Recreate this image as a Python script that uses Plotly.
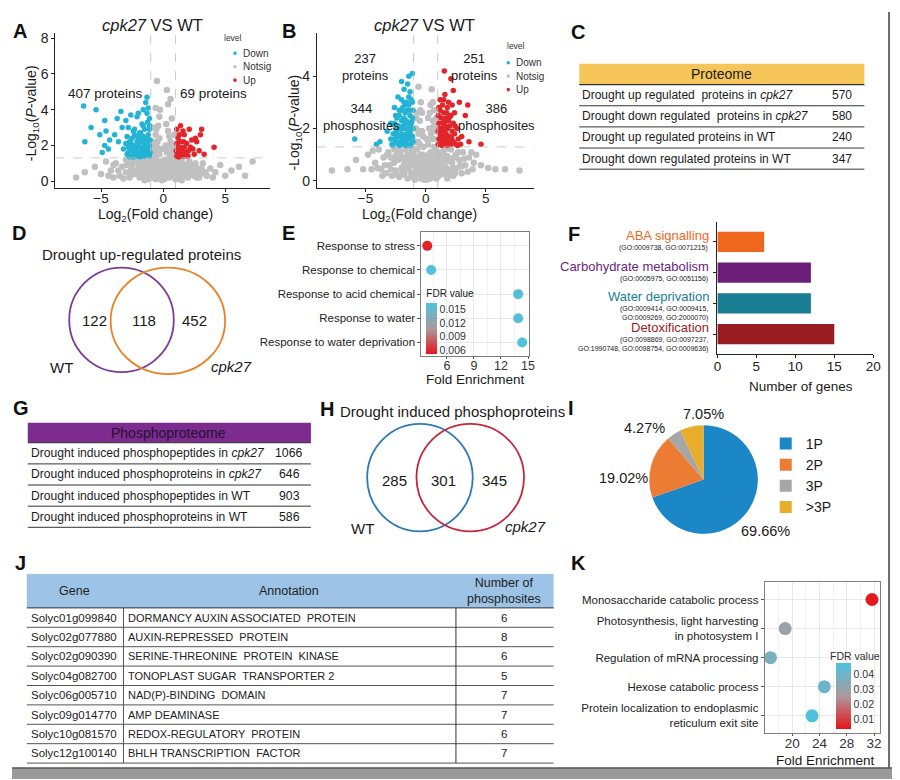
import plotly.graph_objects as go

# The page body has an 8px margin, so the figure is offset by 8px; reference
# pixel positions are converted with that offset.
OFF = 8
W, H = 892, 772
FONT = "Liberation Sans"
INK = "#1a1a1a"


def px(x):
    return (x - OFF) / W


def py(y):
    return 1 - (y - OFF) / H


# ------------------------------------------------------------------ DATA
# Panel A volcano (proteome) : (log2FC, -log10 P)
A_down = [(-6.4, 4.2), (-6.3, 2.2), (-5.8, 3.0), (-5.4, 4.0), (-5.1, 2.6), (-4.9, 1.6), (-4.7, 3.4),
          (-4.6, 2.8), (-4.3, 2.3), (-4.7, 2.0), (-4.4, 1.8), (-3.9, 2.6), (-3.7, 3.5), (-3.4, 3.9),
          (-3.3, 3.0), (-3.0, 3.4), (-2.6, 3.7), (-2.1, 3.6), (-2.0, 3.8), (-1.6, 4.0), (-1.4, 4.4),
          (-1.3, 4.7), (-1.1, 3.5), (-1.3, 3.8), (-1.7, 3.2), (-2.3, 2.9), (-1.2, 4.1), (-1.1, 3.1),
          (-3.6, 2.2), (-3.2, 1.8), (-2.9, 2.5), (-2.8, 3.0), (-1.5, 2.9), (-1.9, 2.7),
          (-2.9, 1.5), (-2.8, 1.9), (-2.7, 2.2), (-2.6, 1.4), (-2.5, 1.7), (-2.5, 2.4), (-2.4, 2.0),
          (-2.3, 1.5), (-2.3, 2.6), (-2.2, 1.8), (-2.1, 2.2), (-2.0, 1.4), (-2.0, 2.0), (-1.9, 1.6),
          (-1.9, 2.4), (-1.8, 1.9), (-1.8, 2.7), (-1.7, 1.4), (-1.7, 2.2), (-1.6, 1.7), (-1.6, 2.5),
          (-1.5, 2.0), (-1.5, 1.4), (-1.4, 1.8), (-1.4, 2.3), (-1.3, 1.5), (-1.3, 2.1), (-1.2, 1.7),
          (-1.2, 2.6), (-1.1, 1.4), (-1.1, 2.0), (-1.1, 2.9), (-1.05, 1.6), (-1.05, 2.3), (-2.6, 2.1),
          (-2.2, 1.4), (-1.9, 1.35), (-2.8, 1.6), (-3.0, 2.1), (-2.4, 2.8), (-1.6, 3.1), (-1.25, 3.3),
          (-2.7, 1.35), (-2.4, 1.35), (-2.1, 1.7), (-1.75, 1.65), (-1.45, 1.6), (-1.15, 1.85),
          (-2.55, 1.95), (-2.05, 2.45), (-1.55, 2.25), (-1.25, 2.4)]
A_up = [(1.1, 2.9), (1.4, 3.1), (1.7, 2.6), (2.1, 2.9), (2.6, 2.4), (2.7, 2.2), (3.0, 2.6), (3.1, 2.9),
        (4.1, 1.9), (2.9, 1.7), (2.4, 1.8), (1.2, 2.4), (1.3, 1.5), (1.1, 1.4), (1.5, 1.8), (1.6, 1.4),
        (1.2, 1.9), (1.4, 2.2), (1.8, 1.6), (1.9, 2.1), (2.0, 1.4), (2.2, 1.9), (1.05, 1.7), (1.25, 1.35),
        (1.5, 1.5), (1.7, 1.9), (2.3, 2.3), (1.3, 2.6), (1.9, 1.4), (2.5, 1.5), (3.3, 1.5), (1.6, 2.8),
        (1.1, 2.1), (1.4, 1.65), (1.65, 2.2), (2.05, 1.7), (1.35, 1.9), (1.15, 1.6)]
A_ns = [(-7.0, 0.2), (-6.3, 0.5), (-5.5, 0.8), (-5.0, 0.4), (-4.6, 1.1), (-4.2, 0.6), (-3.8, 1.0),
        (-3.5, 0.3), (-3.3, 0.8), (-3.0, 0.5), (-3.0, 1.2), (-2.7, 0.2), (-2.5, 0.9), (-2.3, 0.4),
        (-2.2, 1.1), (-2.0, 0.7), (-1.9, 0.2), (-1.8, 1.0), (-1.6, 0.5), (-1.5, 1.2), (-1.4, 0.8),
        (-1.3, 0.3), (-1.2, 1.0), (-1.1, 0.6), (-1.0, 1.3), (-0.9, 0.2), (-0.9, 1.6), (-0.8, 0.9),
        (-0.8, 2.2), (-0.7, 0.4), (-0.7, 1.4), (-0.6, 2.6), (-0.6, 0.1), (-0.5, 1.0), (-0.5, 1.9),
        (-0.4, 3.1), (-0.4, 0.5), (-0.3, 1.5), (-0.3, 2.4), (-0.2, 0.2), (-0.2, 0.9), (-0.1, 1.8),
        (-0.1, 0.05), (0.0, 0.4), (0.1, 0.1), (0.1, 1.2), (0.2, 0.6), (0.2, 2.0), (0.3, 0.3), (0.3, 1.6),
        (0.3, 5.1), (0.4, 0.8), (0.4, 2.8), (0.4, 4.3), (0.5, 0.2), (0.5, 1.3), (0.6, 0.6), (0.6, 2.2),
        (0.7, 1.0), (0.7, 3.5), (0.8, 0.3), (0.8, 1.8), (0.9, 0.8), (0.9, 2.6), (1.0, 0.1), (1.1, 0.5),
        (1.2, 1.0), (1.3, 0.3), (1.4, 0.8), (1.5, 1.2), (1.6, 0.4), (1.8, 0.9), (2.0, 0.2), (2.1, 1.1),
        (2.3, 0.6), (2.5, 0.3), (2.6, 1.0), (2.8, 0.7), (3.0, 0.4), (3.2, 1.0), (3.5, 0.3), (3.8, 0.7),
        (4.2, 0.5), (4.6, 0.9), (5.0, 0.3), (5.5, 0.6), (6.1, 0.8), (6.6, 0.3), (7.2, 1.1), (-0.5, 5.6),
        (-0.6, 4.1), (-0.3, 3.6), (-0.8, 3.0), (0.6, 4.6), (-0.7, 0.7), (-2.6, 0.6), (-1.7, 0.3),
        (1.9, 0.5), (2.7, 0.2), (-4.0, 0.2), (4.0, 0.2), (-0.4, 0.2), (0.5, 0.5), (-0.2, 0.6),
        (-1.5, 0.05), (1.5, 0.05), (-0.9, 0.45), (0.9, 0.45), (-2.1, 0.45), (2.2, 0.35), (-1.2, 0.1),
        (1.2, 0.15), (-0.6, 1.25), (0.6, 1.5),
        (-3.2, 0.15), (-2.9, 0.9), (-2.6, 0.35), (-2.4, 1.2), (-2.2, 0.6), (-2.0, 1.0), (-1.9, 0.45),
        (-1.7, 0.8), (-1.6, 1.1), (-1.5, 0.65), (-1.3, 0.55), (-1.2, 1.25), (-1.1, 0.85), (-1.0, 0.4),
        (-0.95, 1.0), (-0.85, 1.25), (-0.75, 1.9), (-0.65, 0.95), (-0.55, 1.6), (-0.45, 2.2),
        (-0.35, 0.75), (-0.25, 1.1), (-0.15, 0.35), (0.0, 0.15), (0.05, 0.7), (0.15, 0.3), (0.25, 0.9),
        (0.35, 1.9), (0.45, 1.05), (0.55, 0.8), (0.65, 1.3), (0.75, 0.55), (0.85, 1.4), (0.95, 1.1),
        (1.05, 0.75), (1.15, 0.3), (1.25, 0.65), (1.35, 1.0), (1.45, 0.45), (1.55, 0.9), (1.7, 0.65),
        (1.85, 0.3), (2.0, 0.8), (2.2, 0.45), (2.4, 0.9), (2.6, 0.6), (2.9, 0.2), (3.1, 0.7), (3.4, 0.5),
        (-3.6, 0.6), (-4.0, 0.9), (-4.4, 0.3), (-2.75, 1.0), (-0.8, 1.6), (0.7, 2.0), (-0.55, 2.9),
        (0.5, 2.5), (0.25, 3.2), (-0.25, 4.0), (0.15, 0.55), (-0.05, 0.25), (0.8, 1.1), (-1.0, 0.75)]

# Panel B volcano (phosphoproteome)
B_down = [(-1.1, 4.1), (-1.4, 4.0), (-1.5, 3.7), (-2.0, 3.8), (-1.8, 3.5), (-2.3, 3.2), (-1.3, 3.4),
          (-2.6, 2.8), (-2.9, 2.2), (-3.2, 1.9), (-3.8, 1.5), (-5.9, 1.6), (-4.1, 1.4), (-2.0, 3.1),
          (-1.6, 3.0), (-1.4, 2.9), (-1.1, 3.0), (-2.5, 2.5), (-2.2, 2.7), (-1.9, 2.8),
          (-2.8, 1.4), (-2.7, 1.8), (-2.6, 2.2), (-2.5, 1.5), (-2.4, 1.9), (-2.4, 2.4), (-2.3, 1.4),
          (-2.3, 2.1), (-2.2, 1.7), (-2.2, 2.5), (-2.1, 1.5), (-2.1, 2.0), (-2.0, 1.8), (-2.0, 2.3),
          (-2.0, 2.7), (-1.9, 1.4), (-1.9, 2.1), (-1.8, 1.7), (-1.8, 2.4), (-1.8, 3.0), (-1.7, 1.5),
          (-1.7, 2.0), (-1.7, 2.6), (-1.6, 1.8), (-1.6, 2.3), (-1.5, 1.4), (-1.5, 2.0), (-1.5, 2.7),
          (-1.4, 1.6), (-1.4, 2.2), (-1.3, 1.9), (-1.3, 2.5), (-1.2, 1.4), (-1.2, 2.1), (-1.2, 3.1),
          (-1.1, 1.7), (-1.1, 2.4), (-1.05, 1.5), (-1.05, 2.0), (-1.05, 2.7), (-2.6, 1.6), (-2.5, 2.0),
          (-1.9, 1.6), (-1.6, 1.35), (-1.3, 1.35), (-2.9, 1.6), (-1.4, 3.2), (-1.7, 2.9),
          (-2.75, 1.35), (-2.45, 1.65), (-2.15, 1.35), (-1.85, 2.0), (-1.55, 1.6), (-1.25, 1.75),
          (-1.15, 2.25), (-1.35, 2.7), (-1.65, 2.2), (-2.35, 1.75)]
B_up = [(1.55, 4.2), (2.1, 3.9), (2.3, 3.45), (3.5, 2.9), (4.6, 1.4), (3.3, 2.5), (1.6, 3.3), (2.8, 3.0),
        (3.6, 1.5), (3.0, 1.7), (1.05, 1.4), (1.05, 1.9), (1.05, 2.5), (1.1, 1.6), (1.1, 2.2), (1.2, 1.4),
        (1.2, 1.8), (1.2, 2.7), (1.3, 1.5), (1.3, 2.0), (1.3, 2.4), (1.4, 1.7), (1.4, 2.2), (1.4, 2.9),
        (1.5, 1.4), (1.5, 1.9), (1.5, 2.6), (1.6, 1.6), (1.6, 2.1), (1.7, 1.4), (1.7, 1.8), (1.7, 2.4),
        (1.8, 2.0), (1.8, 2.8), (1.9, 1.5), (1.9, 2.3), (2.0, 1.7), (2.0, 2.1), (2.1, 1.4), (2.1, 2.5),
        (2.2, 1.9), (2.3, 1.5), (2.3, 2.2), (2.4, 1.8), (2.5, 1.4), (2.6, 2.0), (2.7, 1.6), (1.2, 3.1),
        (1.5, 3.1), (1.1, 2.8), (2.4, 2.6), (1.35, 1.35), (1.8, 1.35), (2.9, 1.4), (2.2, 2.9), (1.9, 3.0),
        (1.25, 1.65), (1.55, 2.25), (1.85, 1.7), (2.15, 1.65), (2.45, 2.1), (1.45, 1.45), (1.75, 2.6),
        (2.65, 1.35), (1.15, 2.0), (2.0, 2.45)]
B_ns = [(-7.8, 0.4), (-6.5, 0.45), (-5.8, 0.8), (-5.2, 0.45), (-4.8, 1.0), (-4.5, 0.45), (-4.2, 0.7),
        (-3.9, 1.2), (-3.7, 0.45), (-3.5, 0.9), (-3.3, 0.3), (-3.1, 1.1), (-3.0, 0.6), (-2.8, 0.2),
        (-2.7, 0.9), (-2.6, 1.2), (-2.5, 0.4), (-2.3, 0.8), (-2.2, 0.15), (-2.1, 1.1), (-2.0, 0.5),
        (-1.9, 0.9), (-1.8, 0.25), (-1.7, 1.2), (-1.6, 0.6), (-1.5, 0.1), (-1.5, 1.0), (-1.4, 0.4),
        (-1.3, 0.8), (-1.2, 0.2), (-1.2, 1.2), (-1.1, 0.6), (-1.0, 1.0), (-1.0, 0.3), (-0.9, 1.5),
        (-0.9, 0.05), (-0.8, 0.7), (-0.8, 2.0), (-0.7, 1.2), (-0.7, 2.6), (-0.7, 0.3), (-0.6, 1.8),
        (-0.6, 0.9), (-0.5, 2.3), (-0.5, 0.5), (-0.5, 1.4), (-0.4, 0.1), (-0.4, 1.0), (-0.4, 3.0),
        (-0.3, 0.6), (-0.3, 1.9), (-0.2, 0.3), (-0.2, 1.3), (-0.1, 0.05), (-0.1, 0.8), (0.0, 0.2),
        (0.1, 0.05), (0.1, 0.9), (0.2, 0.3), (0.2, 1.4), (0.3, 0.6), (0.3, 2.0), (0.4, 0.1), (0.4, 1.1),
        (0.4, 2.9), (0.5, 0.5), (0.5, 1.6), (0.5, 3.5), (0.6, 0.9), (0.6, 2.3), (0.7, 0.3), (0.7, 1.3),
        (0.7, 2.7), (0.8, 0.7), (0.8, 1.9), (0.9, 0.1), (0.9, 1.1), (0.9, 2.4), (1.0, 0.5), (1.0, 0.9),
        (1.1, 0.2), (1.2, 0.7), (1.3, 1.1), (1.4, 0.3), (1.5, 0.8), (1.6, 1.2), (1.7, 0.5), (1.8, 0.1),
        (1.9, 0.9), (2.0, 0.4), (2.1, 1.2), (2.2, 0.7), (2.3, 0.2), (2.5, 1.0), (2.6, 0.5), (2.8, 0.8),
        (3.0, 0.3), (3.1, 1.1), (3.3, 0.6), (3.6, 0.9), (3.9, 0.45), (4.2, 1.0), (4.6, 0.6), (5.2, 0.5),
        (5.8, 0.45), (6.6, 0.45), (7.8, 0.4), (-0.6, 3.6), (-0.3, 2.6), (0.2, 2.4), (0.6, 3.0),
        (-1.1, 1.6), (0.0, 0.5), (-0.2, 0.7), (0.3, 0.25), (-1.8, 0.6), (1.6, 0.25), (-2.4, 1.0),
        (2.4, 0.9), (-1.35, 0.55), (1.35, 0.55), (-0.85, 0.35), (0.85, 0.35), (-2.9, 0.9), (2.9, 0.6),
        (-0.55, 0.25), (0.55, 0.2), (-1.65, 0.85), (1.75, 0.75),
        (-3.6, 0.2), (-3.4, 0.6), (-3.2, 1.0), (-2.9, 0.45), (-2.65, 0.7), (-2.45, 0.25), (-2.25, 1.15),
        (-2.05, 0.85), (-1.95, 0.35), (-1.75, 0.65), (-1.55, 0.45), (-1.45, 0.85), (-1.25, 0.6),
        (-1.15, 1.0), (-1.05, 0.15), (-0.95, 0.75), (-0.85, 1.2), (-0.75, 0.5), (-0.65, 1.5),
        (-0.55, 0.7), (-0.45, 1.9), (-0.35, 0.35), (-0.25, 1.0), (-0.15, 0.55), (-0.05, 0.4),
        (0.05, 0.3), (0.15, 0.7), (0.25, 1.0), (0.35, 0.45), (0.45, 1.8), (0.55, 0.75), (0.65, 1.6),
        (0.75, 0.5), (0.85, 1.25), (0.95, 0.7), (1.05, 0.3), (1.15, 1.0), (1.25, 0.45), (1.45, 1.05),
        (1.55, 0.55), (1.75, 0.95), (1.95, 0.25), (2.05, 0.75), (2.25, 0.5), (2.45, 0.3), (2.7, 1.1),
        (2.95, 0.55), (3.2, 0.85), (3.5, 0.35), (3.8, 1.1), (4.0, 0.7), (-4.0, 0.5), (-4.4, 1.15),
        (-0.8, 2.4), (0.7, 2.1), (-0.45, 2.7), (0.35, 2.6), (-0.2, 1.7), (0.1, 1.6)]

A_labels = ["407 proteins", "69 proteins"]
B_labels = ["237<br>proteins", "251<br>proteins", "344<br>phosphosites", "386<br>phosphosites"]
VOLC_TITLE = "<i>cpk27</i> VS WT"
LEVELS = ["Down", "Notsig", "Up"]

# Panel C table
C_header = "Proteome"
C_rows = ["Drought up regulated  proteins in <i>cpk27</i>",
          "Drought down regulated  proteins in <i>cpk27</i>",
          "Drought up regulated proteins in WT",
          "Drought down regulated proteins in WT"]
C_vals = [570, 580, 240, 347]

# Panel D Venn
D_title = "Drought up-regulated proteins"
D_counts = [122, 118, 452]

# Panel E GO dot plot
E_terms = ["Response to stress", "Response to chemical", "Response to acid chemical",
           "Response to water", "Response to water deprivation"]
E_fold = [3.83, 4.26, 13.9, 13.9, 14.35]
E_fdr = [0.0058, 0.0163, 0.0161, 0.0160, 0.0164]

# Panel F bar chart
F_cats = ["ABA signalling", "Carbohydrate metabolism", "Water deprivation", "Detoxification"]
F_go = ["(GO:0009738, GO:0071215)",
        "(GO:0005975, GO:0051156)",
        "(GO:0009414, GO:0009415,<br>GO:0009269, GO:2000070)",
        "(GO:0098869, GO:0097237,<br>GO:1990748, GO:0098754, GO:0009636)"]
F_genes = [6, 12, 12, 15]

# Panel G table
G_header = "Phosphoproteome"
G_rows = ["Drought induced phosphopeptides in <i>cpk27</i>",
          "Drought induced phosphoproteins in <i>cpk27</i>",
          "Drought induced phosphopeptides in WT",
          "Drought induced phosphoproteins in WT"]
G_vals = [1066, 646, 903, 586]

# Panel H Venn
H_title = "Drought induced phosphoproteins"
H_counts = [285, 301, 345]

# Panel I pie
I_labels = ["1P", "2P", "3P", ">3P"]
I_vals = [69.66, 19.02, 4.27, 7.05]

# Panel J table
J_head = ["Gene", "Annotation", "Number of<br>phosphosites"]
J_genes = ["Solyc01g099840", "Solyc02g077880", "Solyc02g090390", "Solyc04g082700",
           "Solyc06g005710", "Solyc09g014770", "Solyc10g081570", "Solyc12g100140"]
J_annot = ["DORMANCY AUXIN ASSOCIATED  PROTEIN", "AUXIN-REPRESSED  PROTEIN",
           "SERINE-THREONINE  PROTEIN  KINASE", "TONOPLAST SUGAR  TRANSPORTER 2",
           "NAD(P)-BINDING  DOMAIN", "AMP DEAMINASE", "REDOX-REGULATORY  PROTEIN",
           "BHLH TRANSCRIPTION  FACTOR"]
J_sites = [6, 8, 6, 5, 7, 7, 6, 7]

# Panel K GO dot plot
K_terms = ["Monosaccharide catabolic process",
           "Photosynthesis, light harvesting<br>in photosystem I",
           "Regulation of mRNA processing",
           "Hexose catabolic process",
           "Protein localization to endoplasmic<br>reticulum exit site"]
K_fold = [31.7, 18.95, 16.8, 24.7, 22.9]
K_fdr = [0.0050, 0.0300, 0.0370, 0.0405, 0.0470]

# ------------------------------------------------------------------ STYLE
C_DOWN, C_NS, C_UP = "#23b3d5", "#c0c0c0", "#e2252b"
LEVEL_COLORS = [C_DOWN, C_NS, C_UP]
FDR_SCALE = [[0, "#e8141b"], [0.5, "#aa999d"], [1, "#4cc3df"]]
F_colors = ["#ef661d", "#6b1f79", "#1a7e93", "#981c21"]
I_colors = ["#1b87c7", "#ec7b33", "#a6a6a6", "#e9ad2c"]
I_label_pos = [(772, 531), (628, 477), (649, 427), (709, 413)]

fig = go.Figure()
shapes = []
ann = []


def text(x, y, s, size, anchor="center", color=INK, **kw):
    d = dict(xref="paper", yref="paper", x=px(x), y=py(y), text=s, showarrow=False,
             xanchor=anchor, yanchor="middle", font=dict(family=FONT, size=size, color=color))
    d.update(kw)
    ann.append(d)


def hline(x0, x1, y, color="#333", width=1):
    shapes.append(dict(type="line", xref="paper", yref="paper", x0=px(x0), x1=px(x1),
                       y0=py(y), y1=py(y), line=dict(color=color, width=width)))


def vline(x, y0, y1, color="#333", width=1):
    shapes.append(dict(type="line", xref="paper", yref="paper", x0=px(x), x1=px(x),
                       y0=py(y0), y1=py(y1), line=dict(color=color, width=width)))


def rect(x0, y0, x1, y1, fill, lc=None, lw=0):
    shapes.append(dict(type="rect", xref="paper", yref="paper", x0=px(x0), x1=px(x1),
                       y0=py(y1), y1=py(y0), fillcolor=fill,
                       line=dict(color=lc or fill, width=lw), layer="below"))


def circle(x0, y0, x1, y1, color, width=1.8, fill=None):
    d = dict(type="circle", xref="paper", yref="paper", x0=px(x0), x1=px(x1),
             y0=py(y1), y1=py(y0), line=dict(color=color, width=width))
    if fill:
        d["fillcolor"] = fill
    shapes.append(d)


# ------------------------------------------------------------------ volcano traces
def volcano(down, ns, up, xa, ya):
    for pts, col, sz in [(ns, C_NS, 6.5), (down, C_DOWN, 5.5), (up, C_UP, 5.5)]:
        fig.add_trace(go.Scatter(x=[p[0] for p in pts], y=[p[1] for p in pts], mode="markers",
                                 marker=dict(color=col, size=sz, line=dict(width=0)),
                                 xaxis=xa, yaxis=ya, showlegend=False, hoverinfo="skip"))
    for xv in (-1, 1):
        shapes.append(dict(type="line", xref=xa, yref=ya + " domain", x0=xv, x1=xv, y0=0, y1=1,
                           line=dict(color="#bdbdbd", width=0.8, dash="dash")))
    shapes.append(dict(type="line", xref=xa + " domain", yref=ya, x0=0, x1=1, y0=1.3, y1=1.3,
                       line=dict(color="#bdbdbd", width=0.8, dash="dash")))


def level_legend(x_title, x_dot, y_title, ys):
    text(x_title, y_title, "level", 8.5, anchor="left", color="#333")
    for name, col, yy in zip(LEVELS, LEVEL_COLORS, ys):
        circle(x_dot - 1.8, yy - 1.8, x_dot + 1.8, yy + 1.8, col, width=0, fill=col)
        text(x_dot + 6, yy, name, 10, anchor="left", color="#333")


volcano(A_down, A_ns, A_up, "x", "y")
volcano(B_down, B_ns, B_up, "x2", "y2")
level_legend(221, 234, 35, [50.5, 64, 77.5])
level_legend(508, 511, 43, [60, 73.5, 87])

# ------------------------------------------------------------------ E dot plot
fig.add_trace(go.Scatter(
    x=E_fold, y=E_terms, mode="markers", xaxis="x3", yaxis="y3", showlegend=False, hoverinfo="skip",
    marker=dict(size=10, color=E_fdr, colorscale=FDR_SCALE, cmin=0.0052, cmax=0.0166, showscale=True,
                line=dict(width=0),
                colorbar=dict(title=dict(text="FDR value", side="top", font=dict(size=10, family=FONT)),
                              x=px(428), xanchor="left", y=py(285), yanchor="top",
                              len=67, lenmode="pixels", thickness=11, thicknessmode="pixels",
                              tickvals=[0.006, 0.009, 0.012, 0.015], ticktext=["0.006", "0.009", "0.012", "0.015"],
                              tickfont=dict(size=10.5, family=FONT, color="#333"),
                              outlinewidth=0, ticks="", xpad=0, ypad=0, bgcolor="rgba(0,0,0,0)"))))

# ------------------------------------------------------------------ F bars
fig.add_trace(go.Bar(x=F_genes, y=F_cats, orientation="h", xaxis="x4", yaxis="y4", width=0.66,
                     marker=dict(color=F_colors, line=dict(width=0)), showlegend=False, hoverinfo="skip"))

# ------------------------------------------------------------------ K dot plot
fig.add_trace(go.Scatter(
    x=K_fold, y=K_terms, mode="markers", xaxis="x5", yaxis="y5", showlegend=False, hoverinfo="skip",
    marker=dict(size=13, color=K_fdr, colorscale=FDR_SCALE, cmin=0.004, cmax=0.048, showscale=True,
                line=dict(width=0),
                colorbar=dict(x=px(843), xanchor="left", y=py(663), yanchor="top",
                              len=66, lenmode="pixels", thickness=15, thicknessmode="pixels",
                              tickvals=[0.01, 0.02, 0.03, 0.04], ticktext=["0.01", "0.02", "0.03", "0.04"],
                              tickfont=dict(size=10.5, family=FONT, color="#333"),
                              outlinewidth=0, ticks="", xpad=0, ypad=0, bgcolor="rgba(0,0,0,0)"))))
text(862, 656, "FDR value", 10.5, color="#333")

# ------------------------------------------------------------------ I pie
fig.add_trace(go.Pie(labels=I_labels, values=I_vals, sort=False, direction="clockwise", rotation=0,
                     marker=dict(colors=I_colors, line=dict(width=0)), textposition="none",
                     domain=dict(x=[px(654), px(764)], y=[py(534), py(424)]),
                     showlegend=True, hoverinfo="skip"))
for v, (lx, ly) in zip(I_vals, I_label_pos):
    text(lx, ly, "%.2f%%" % v, 14.5)

# ------------------------------------------------------------------ axes
tick_common = dict(showgrid=False, zeroline=False, showline=True, linecolor="#222", linewidth=1,
                   ticks="outside", ticklen=3, tickcolor="#222")
volc_y_dom = [py(186), py(30)]
layout_axes = dict(
    xaxis=dict(domain=[px(52), px(270)], range=[-8.67, 8.64], tickvals=[-5, 0, 5], anchor="y",
               tickfont=dict(size=13.5, color="#222"), ticklabelstandoff=-5, **tick_common),
    yaxis=dict(domain=volc_y_dom, range=[-0.39, 8.3], tickvals=[0, 2, 4, 6, 8], anchor="x",
               tickfont=dict(size=14, color="#222"), **tick_common),
    xaxis2=dict(domain=[px(317), px(537)], range=[-9.05, 9.0], tickvals=[-5, 0, 5], anchor="y2",
                tickfont=dict(size=13.5, color="#222"), ticklabelstandoff=-5, **tick_common),
    yaxis2=dict(domain=volc_y_dom, range=[-0.27, 5.65], tickvals=[0, 2, 4], anchor="x2",
                tickfont=dict(size=14, color="#222"), **tick_common),
    xaxis3=dict(domain=[px(423), px(532)], range=[3.18, 15.1], tickvals=[6, 9, 12, 15], anchor="y3",
                showline=True, mirror=True, linecolor="#7f7f7f", linewidth=1, zeroline=False,
                showgrid=True, gridcolor="#e8e8e8", gridwidth=1,
                minor=dict(tickvals=[4.5, 7.5, 10.5, 13.5], showgrid=True, gridcolor="#f2f2f2"),
                ticks="outside", ticklen=2, tickcolor="#555", ticklabelstandoff=-4,
                tickfont=dict(size=12.5, color="#333")),
    yaxis3=dict(domain=[py(355), py(230)], type="category", categoryorder="array", categoryarray=E_terms,
                range=[4.57, -0.58], anchor="x3", showline=True, mirror=True, linecolor="#7f7f7f",
                linewidth=1, zeroline=False, showgrid=True, gridcolor="#e8e8e8",
                ticks="outside", ticklen=3, tickcolor="#555", tickfont=dict(size=11.5, color="#222")),
    xaxis4=dict(domain=[px(723), px(881)], range=[0, 20], tickvals=[0, 5, 10, 15, 20], anchor="y4",
                tickfont=dict(size=13.5, color="#222"), ticklabelstandoff=-3, **tick_common),
    yaxis4=dict(domain=[py(353), py(220)], type="category", categoryorder="array", categoryarray=F_cats,
                range=[3.65, -0.65], anchor="x4", showticklabels=False, **tick_common),
    xaxis5=dict(domain=[px(771), px(888)], range=[15.95, 32.9], tickvals=[20, 24, 28, 32], anchor="y5",
                showline=True, mirror=True, linecolor="#7f7f7f", linewidth=1, zeroline=False,
                showgrid=True, gridcolor="#e8e8e8",
                minor=dict(tickvals=[18, 22, 26, 30], showgrid=True, gridcolor="#f2f2f2"),
                ticks="outside", ticklen=2, tickcolor="#555", ticklabelstandoff=-4,
                tickfont=dict(size=13.5, color="#333")),
    yaxis5=dict(domain=[py(734), py(582)], type="category", categoryorder="array", categoryarray=K_terms,
                range=[4.6, -0.6], anchor="x5", showline=True, mirror=True, linecolor="#7f7f7f",
                linewidth=1, zeroline=False, showgrid=True, gridcolor="#e8e8e8",
                ticks="outside", ticklen=3, tickcolor="#555", tickfont=dict(size=11.5, color="#222")),
)

# ------------------------------------------------------------------ text: volcano
text(150, 22, VOLC_TITLE, 16.5)
text(426, 22, VOLC_TITLE, 16.5)
ylab = "-Log<sub>10</sub>(<i>P</i>-value)"
xlab = "Log<sub>2</sub>(Fold change)"
text(29, 111, ylab, 14, textangle=-90)
text(295, 120, ylab, 14, textangle=-90)
text(153, 213, xlab, 14)
text(421, 213, xlab, 14)
text(103, 91, A_labels[0], 13.5)
text(212, 91, A_labels[1], 13.5)
text(366, 64, B_labels[0], 13)
text(477, 64, B_labels[1], 13)
text(362, 115, B_labels[2], 13)
text(499, 115, B_labels[3], 13)

# ------------------------------------------------------------------ C table
rect(583, 61, 872, 82, "#f6c65b")
text(727, 71.5, C_header, 14)
c_top, c_h = 82, 21.25
hline(583, 872, c_top, "#333", 1.2)
for i, (lab, v) in enumerate(zip(C_rows, C_vals)):
    yc = c_top + c_h * (i + 0.5)
    text(584, yc, lab, 12, anchor="left")
    text(849, yc, str(v), 12)
    hline(583, 872, c_top + c_h * (i + 1), "#333", 1)

# ------------------------------------------------------------------ D venn
text(139, 253, D_title, 15)
circle(66, 266, 172, 371, "#7b3c94")
circle(108, 266, 224, 373, "#e8832a")
for xc, n in zip([92, 142, 193], D_counts):
    text(xc, 319, str(n), 15)
text(58, 366, "WT", 15)
text(230, 365, "<i>cpk27</i>", 15)

# ------------------------------------------------------------------ E / F / K axis titles
text(478, 378, "Fold Enrichment", 13.5)
text(808, 385, "Number of genes", 13.5)
text(833, 761, "Fold Enrichment", 13.5)
for cat, gtxt, col in zip(F_cats, F_go, F_colors):
    ann.append(dict(xref="paper", yref="y4", x=px(717), y=cat, text=cat, showarrow=False,
                    xanchor="right", yanchor="bottom", yshift=-3,
                    font=dict(family=FONT, size=13, color=col)))
    ann.append(dict(xref="paper", yref="y4", x=px(716), y=cat, text=gtxt, showarrow=False,
                    xanchor="right", yanchor="top", yshift=0, align="right",
                    font=dict(family=FONT, size=7, color=INK)))

# ------------------------------------------------------------------ G table
rect(24, 422, 311, 442, "#7b2c8e")
text(167, 432, G_header, 14, color="#2a0f33")
g_top, g_h = 442, 21.25
hline(24, 311, g_top, "#333", 1.2)
for i, (lab, v) in enumerate(zip(G_rows, G_vals)):
    yc = g_top + g_h * (i + 0.5)
    text(25, yc, lab, 12.1, anchor="left")
    text(289, yc, str(v), 12.3)
    hline(24, 311, g_top + g_h * (i + 1), "#333", 1)

# ------------------------------------------------------------------ H venn
text(455, 411, H_title, 15)
circle(368, 423, 475, 531, "#2f79b5")
circle(418, 423, 527, 531, "#c5283d")
for xc, n in zip([396, 445, 497], H_counts):
    text(xc, 480, str(n), 15)
text(363, 528, "WT", 15)
text(528, 526, "<i>cpk27</i>", 15)

# ------------------------------------------------------------------ J table
rect(23, 574, 557, 608, "#9dc3e6")
text(71, 591, J_head[0], 12.5, color="#222")
text(289, 591, J_head[1], 12.5, color="#222")
text(507, 591, J_head[2], 12.5, color="#222")
j_top, j_h = 608, 19.5
hline(23, 557, j_top, "#333", 1)
for i, (g, a, n) in enumerate(zip(J_genes, J_annot, J_sites)):
    yc = j_top + j_h * (i + 0.5)
    text(25, yc, g, 11.5, anchor="left", color="#222")
    text(124, yc, a, 11, anchor="left", color="#222")
    text(507, yc, str(n), 11.5, color="#222")
    hline(23, 557, j_top + j_h * (i + 1), "#555", 1)
vline(121, j_top, j_top + j_h * len(J_genes), "#555", 1)
vline(458, j_top, j_top + j_h * len(J_genes), "#333", 1)

# ------------------------------------------------------------------ panel letters
for L, x, y in [("A", 16, 28), ("B", 289, 28), ("C", 582, 29), ("D", 15, 231), ("E", 288, 231),
                ("F", 578, 232), ("G", 17, 407), ("H", 327, 408), ("I", 575, 407), ("J", 17, 563),
                ("K", 582, 563)]:
    text(x, y, "<b>%s</b>" % L, 20, color="#111")

# ------------------------------------------------------------------ frame
vline(897, 9, 769, "#6b6b6b", 2)
rect(8, 769, 900, 780, "#9a9a9a")
hline(8, 900, 769, "#555", 1.5)

fig.update_layout(
    width=W, height=H, margin=dict(l=0, r=0, t=0, b=0, pad=0),
    paper_bgcolor="white", plot_bgcolor="white",
    font=dict(family=FONT, color=INK),
    shapes=shapes, annotations=ann,
    legend=dict(x=px(772), y=py(427), xanchor="left", yanchor="top", bgcolor="rgba(0,0,0,0)",
                font=dict(size=14, color=INK, family=FONT), itemclick=False),
    **layout_axes,
)

fig.write_html("out.html")
